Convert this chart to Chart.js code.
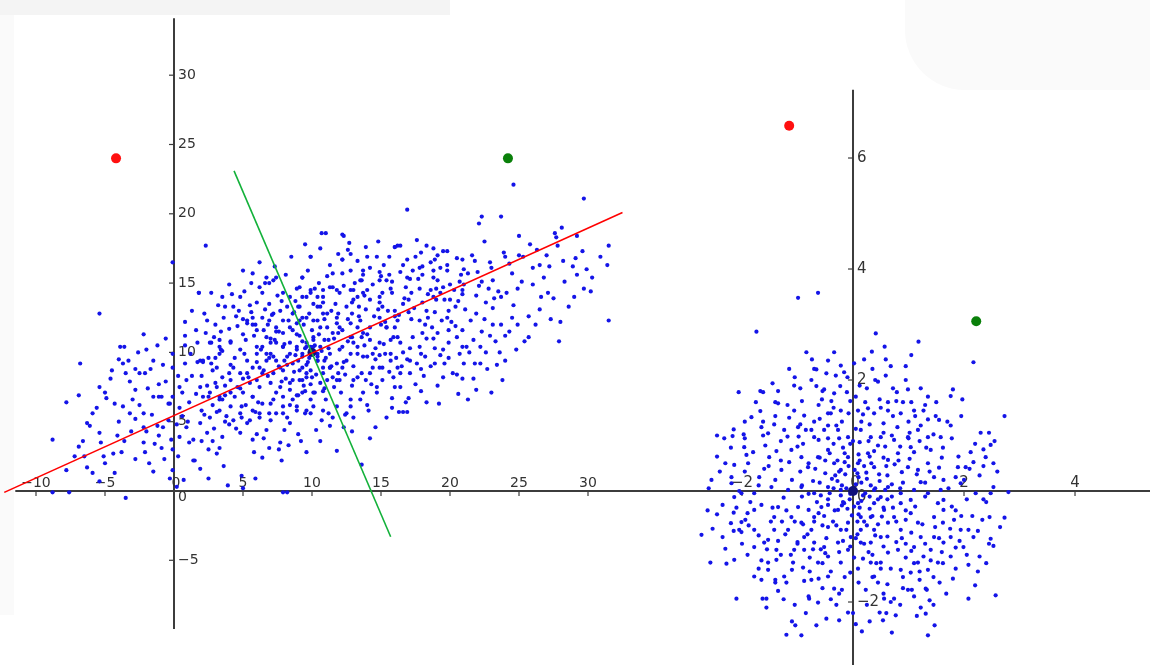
<!DOCTYPE html>
<html>
<head>
<meta charset="utf-8">
<script src="https://cdn.jsdelivr.net/npm/chart.js@4.4.1/dist/chart.umd.min.js"></script>
<style>
html, body { margin: 0; padding: 0; background: #fff; }
#wrap { position: relative; width: 1150px; height: 665px; overflow: hidden; background: #fff; }
.band { position: absolute; left: 0; top: 0; width: 450px; height: 15px; background: #f4f4f4; }
.edge { position: absolute; left: 0; top: 15px; width: 14px; height: 600px; background: #fafafa; }
.corner { position: absolute; left: 905px; top: 0; width: 245px; height: 90px; background: #fafafa; border-bottom-left-radius: 60px; }
canvas { position: absolute; left: 0; top: 0; }
</style>
</head>
<body>
<div id="wrap">
  <div class="band"></div>
  <div class="edge"></div>
  <div class="corner"></div>
  <canvas id="chart" width="1150" height="665"></canvas>
</div>
<script>
// left panel: raw data cloud with principal axes
const leftCloud = [
  [-5.4,12.8],[-8.8,3.7],[-6.8,9.2],[-7.8,6.4],[-6.9,6.9],[-6.9,3.2],[-7.8,1.5],[-7.6,-0.1],[-6.3,4.9],[-6.1,4.7],
  [-5.9,5.6],[-5.4,7.5],[-5.0,7.1],[-5.4,4.2],[-5.3,3.5],[-6.3,1.7],[-5.9,1.3],[-5.4,0.7],[-5.1,2.5],[-4.3,1.3],
  [-3.5,-0.5],[-4.4,2.7],[-3.8,2.8],[-3.6,3.6],[-4.9,6.7],[-4.6,8.1],[-4.5,8.7],[-3.9,10.4],[-3.6,10.4],[-3.3,9.4],
  [-3.7,9.2],[-3.5,8.5],[-2.8,8.8],[-2.5,8.5],[-2.1,8.5],[-1.7,8.8],[-2.2,11.3],[-1.5,9.4],[-1.2,10.5],[-4.3,6.3],
  [-3.7,6.1],[-3.2,5.6],[-2.8,5.2],[-2.5,6.2],[-2.2,5.6],[-2.2,4.6],[-2.0,4.3],[-2.2,3.5],[-2.1,2.8],[-1.8,2.0],
  [-1.5,1.4],[-1.5,6.8],[-1.1,6.8],[-1.1,7.7],[-0.9,6.8],[-1.2,4.7],[-1.1,4.0],[-0.8,4.6],[-0.9,3.1],[-0.4,5.1],
  [-0.4,6.3],[-0.3,6.3],[-0.1,6.8],[-0.1,8.9],[-0.1,9.9],[-0.2,3.7],[-0.1,3.0],[-0.1,1.5],[-0.3,0.9],[-8.8,-0.1],
  [0.8,12.2],[0.8,11.2],[0.8,10.5],[0.8,9.2],[0.4,7.5],[0.6,7.1],[0.4,6.0],[0.6,5.4],[0.9,4.6],[0.4,3.9],
  [1.1,3.5],[1.4,3.7],[0.3,2.5],[1.5,2.2],[0.7,0.8],[1.8,14.3],[2.7,14.3],[3.5,14.0],[4.2,14.2],[4.8,14.0],
  [5.1,14.4],[5.7,15.7],[1.7,10.7],[1.9,9.4],[2.1,9.3],[2.5,9.6],[2.7,9.2],[2.3,11.4],[2.7,10.7],[3.0,12.0],
  [3.3,10.9],[3.4,10.2],[3.5,10.1],[4.1,10.8],[3.7,13.3],[4.3,13.3],[4.7,13.0],[5.3,12.1],[5.7,12.0],[6.4,12.5],
  [1.9,7.5],[2.1,6.8],[2.4,7.6],[2.5,6.8],[3.0,7.8],[3.3,6.8],[3.5,6.6],[3.7,6.9],[4.1,7.1],[4.4,6.8],
  [4.8,7.4],[3.1,5.7],[3.3,5.8],[2.6,5.3],[2.0,5.8],[2.4,4.2],[2.0,3.6],[2.8,3.6],[2.5,3.0],[3.1,2.7],
  [3.5,3.9],[4.0,4.8],[4.3,5.1],[4.8,4.2],[5.3,4.9],[5.7,5.8],[6.2,5.3],[6.5,3.8],[5.9,0.9],[4.9,1.1],
  [3.9,0.4],[1.4,2.2],[5.7,6.8],[5.4,8.2],[6.0,8.0],[6.5,8.7],[6.7,9.9],[6.0,10.4],[6.7,11.1],[7.4,11.5],
  [7.3,10.9],[7.2,9.7],[7.7,8.9],[7.0,6.3],[7.4,5.6],[7.7,3.5],[7.6,3.0],[7.8,2.2],[8.2,-0.1],[6.7,4.4],
  [8.4,4.9],[8.2,5.3],[8.9,6.1],[9.5,5.6],[8.4,7.3],[8.6,8.0],[9.1,8.7],[9.6,8.2],[10.1,7.1],[6.9,15.0],
  [7.4,15.4],[7.9,14.3],[8.4,14.0],[8.2,13.3],[9.1,14.7],[9.3,15.4],[9.6,14.0],[10.1,13.5],[9.1,12.3],[8.6,11.6],
  [7.9,10.4],[8.4,9.9],[8.9,10.4],[9.3,9.7],[9.9,10.4],
  [24.6,22.1],[29.7,21.1],[16.9,20.3],[22.3,19.8],[22.1,19.3],[23.7,19.8],[10.7,18.6],[11.0,18.6],[12.3,18.4],[10.6,17.5],
  [12.7,17.9],[9.9,16.9],[28.1,19.0],[27.6,18.6],[27.7,18.3],[27.8,17.7],[29.2,18.4],[31.5,17.7],[31.4,16.3],[31.5,12.3],
  [29.7,14.6],[30.2,14.4],[29.6,17.3],[29.1,16.8],[29.2,15.6],[28.3,15.1],[28.6,13.3],[27.9,10.8],[27.3,12.4],[27.5,13.9],
  [26.6,14.0],[26.5,13.1],[27.2,16.2],[26.5,16.3],[26.3,17.4],[25.8,17.8],[25.3,16.9],[24.5,15.7],[24.3,16.4],[25.7,12.6],
  [25.7,11.1],[25.4,10.8],[24.9,12.0],[24.6,13.4],[24.5,12.5],[24.0,11.2],[23.8,8.0],[23.0,7.1],[23.6,10.0],[23.7,12.0],
  [23.7,14.0],[23.5,14.4],[23.1,15.2],[23.1,13.2],[23.1,12.0],[22.5,18.0],[21.6,17.0],[20.5,16.8],[20.9,16.7],[21.3,15.7],
  [22.3,15.1],[22.6,13.6],[22.5,12.4],[22.3,11.5],[21.7,10.9],[22.2,10.4],[22.2,9.2],[21.8,9.2],[22.7,8.8],[21.7,8.1],
  [20.9,8.1],[20.5,8.4],[20.2,8.5],[19.5,8.2],[19.6,9.2],[19.3,9.8],[19.5,10.2],[20.5,11.1],[21.2,10.4],[21.4,10.0],
  [20.7,9.9],[20.4,11.9],[19.8,12.5],[19.9,13.0],[20.4,13.3],[20.9,14.2],[20.9,14.5],[20.3,14.5],[20.0,14.9],[20.7,15.1],
  [19.5,14.7],[19.3,14.3],[18.8,14.0],[19.0,13.8],[18.3,13.0],[18.4,12.5],[18.7,11.8],[19.1,11.4],[18.8,11.0],[18.3,11.0],
  [18.0,11.4],[17.8,12.3],[17.2,12.4],[17.3,11.1],[17.8,10.4],[18.2,9.7],[17.6,9.2],[17.1,9.4],[16.6,10.0],[16.4,10.7],
  [16.2,11.1],[16.0,11.8],[16.3,12.7],[16.6,13.5],[17.2,14.3],[17.8,14.6],[18.6,14.5],[19.1,15.2],[18.8,15.9],[19.3,16.1],
  [18.9,16.7],[19.1,17.0],[19.5,17.3],[19.8,17.3],[18.8,17.5],[18.3,17.7],[17.9,17.2],[17.5,16.9],[18.0,16.2],[17.7,15.3],
  [17.1,15.3],[16.9,15.4],[16.6,16.3],[16.0,17.6],[16.4,17.7],[15.6,16.9],[14.9,15.8],[15.4,15.2],[15.1,14.3],[15.8,14.3],
  [14.9,13.6],[15.5,13.0],[14.9,12.5],[15.4,11.8],[15.7,10.9],[14.9,10.7],[15.3,9.9],[15.7,9.4],[15.1,8.9],[16.2,8.9],
  [16.4,8.5],[17.1,8.5],[16.4,7.5],[16.0,7.5],[17.9,7.2],[18.3,6.4],[15.8,6.0],[16.3,5.7],[16.9,5.7],[14.4,8.9],
  [14.3,7.7],[14.7,7.1],[14.0,6.2],[14.1,5.8],[12.8,6.1],[12.5,5.6],[11.5,5.3],[10.7,5.1],[9.6,5.8],[10.1,6.1],
  [9.5,7.2],[10.2,7.1],[10.8,7.2],[12.0,8.0],[13.0,8.0],[13.6,8.5],[14.0,9.7],[13.3,9.9],[12.5,9.4],[11.8,9.2],
  [11.3,8.9],[12.2,10.4],[12.9,11.1],[13.6,11.1],[14.2,11.8],[13.5,12.3],[12.8,12.1],[12.0,11.8],[11.5,11.4],[11.2,10.9],
  [11.8,12.5],[12.5,13.3],[13.3,14.0],[14.0,14.5],[13.6,15.2],[13.0,13.8],[12.8,14.5],[12.0,14.3],[11.5,14.7],[12.2,15.7],
  [12.8,15.9],[13.7,15.9],[14.2,16.1],[14.7,16.9],[14.0,16.9],[12.2,16.7],[11.5,15.7],[10.8,14.5],[10.4,14.0],[9.9,14.5],
  [10.6,13.3],[11.1,12.8],[10.1,12.3],[9.6,12.5],[10.6,11.8],[10.1,11.1],[9.6,10.4],[10.6,10.4],[11.3,9.9],[10.4,9.4],
  [10.8,8.9],[9.9,8.7],[9.3,8.0],[11.5,8.2],[9.3,8.9],
  [2.3,17.7],[-0.1,16.5],[1.8,14.3],[5.6,15.0],[6.2,14.7],[6.6,15.0],[6.7,15.4],[7.2,15.2],[6.4,14.3],[6.0,13.6],
  [5.5,13.4],[5.3,12.3],[5.7,12.5],[5.9,12.0],[6.5,11.6],[6.9,12.3],[7.2,12.8],[7.7,13.0],[7.9,12.3],[7.4,11.8],
  [7.9,11.4],[8.4,11.8],[8.9,12.1],[9.3,12.5],[8.6,12.8],[9.1,13.3],[9.3,14.0],[9.9,14.3],[9.3,15.4],[9.9,16.9],
  [12.2,18.5],[12.2,16.7],[12.8,17.1],[16.0,17.6],[16.2,17.7],[15.6,15.6],[14.9,15.2],[13.5,15.2],[13.0,14.5],[13.7,14.3],
  [14.2,13.8],[14.9,14.0],[15.1,13.3],[11.8,14.5],[11.3,14.7],[10.8,14.0],[10.4,13.3],[10.8,12.8],[10.4,12.3],[11.1,11.8],
  [11.8,12.1],[12.2,11.6],[12.8,11.1],[13.3,11.8],[13.7,11.4],[14.2,10.9],[13.3,10.4],[12.8,9.9],[13.7,9.7],[14.4,9.9],
  [14.9,8.9],[14.2,8.5],[13.3,8.2],[12.2,8.9],[11.8,8.0],[11.1,8.0],[11.3,8.9],[10.8,8.5],[10.4,9.4],[9.9,10.2],
  [9.6,10.7],[10.1,10.4],[10.4,9.9],[9.3,9.9],[8.9,10.2],[8.4,10.7],[7.9,10.4],[7.4,10.7],[7.0,10.7],[6.4,10.4],
  [6.0,9.9],[6.7,9.4],[7.4,9.4],[8.2,9.7],[8.6,9.2],[7.9,8.7],[7.2,8.5],[6.4,8.5],[5.7,8.9],[5.3,8.5],
  [5.5,7.8],[6.2,7.5],[7.0,7.8],[7.7,7.5],[8.4,7.8],[9.1,8.0],[9.6,8.5],[9.3,7.1],[8.6,6.6],[7.9,6.8],
  [7.2,6.6],[6.4,6.3],[5.7,6.8],[5.0,7.1],[4.6,7.5],[4.1,8.0],[4.8,8.5],[4.3,8.9],[5.3,9.4],[4.8,10.2],
  [4.1,10.7],[3.3,10.4],[3.3,9.9],[2.6,10.7],[2.1,9.4],[1.7,9.3],[2.8,8.7],[3.5,8.2],[3.1,7.5],[2.6,7.1],
  [3.3,6.6],[4.1,6.1],[4.8,5.6],[5.5,5.1],[6.2,5.6],[7.0,5.1],[7.9,5.6],[8.9,5.8],[9.9,5.6],[10.8,5.8],
  [11.8,6.1],[12.8,6.6],[13.7,7.1],[14.7,7.5],[15.1,8.0],[15.7,9.9],[15.9,11.1],[15.4,11.8],[16.2,12.3],
  [13.6,1.9],[7.9,-0.1],[5.0,0.2],[2.5,0.9],[5.8,2.8],[5.7,3.7],[3.3,3.1],[8.3,3.3],[12.9,4.3],[12.4,5.5],
  [16.6,5.7],[17.0,6.7],[10.6,3.6],[9.0,4.1],[11.3,4.7],
  [9.5,10.3],[10.4,9.7],[10.2,10.5],[9.8,9.6],[10.7,10.1],[9.3,10.8],[10.9,9.4],[9.6,9.1],[10.1,10.9],[11.2,10.3],
  [8.8,9.8],[10.5,11.3],[8.2,9.1],[9.1,11.2],[11.4,9.0],[12.6,10.8],[7.6,11.5],[10.3,8.4],[11.9,12.8],[8.7,12.9],
  [13.4,12.6],[6.8,8.3],[9.9,7.7],[12.1,7.1],[14.6,10.3],[7.1,12.7],[10.8,13.6],[13.9,13.1],[16.7,13.9],[15.3,12.2],
  [17.4,13.2],[18.9,12.9],[16.1,9.6],[19.9,11.6],[21.1,13.1],[20.1,12.2],[5.2,10.9],[4.4,9.6],[3.1,8.9],[6.1,6.4],
  [8.4,6.2],[11.0,6.6],[12.3,9.3],[9.4,12.0],[10.0,11.6],[8.0,10.6],[11.6,11.0],[12.9,13.6],[14.4,14.9],[15.7,14.6],
  [18.0,15.6],[13.1,15.0],[11.1,15.5],[8.9,14.6],[6.9,13.5],[5.0,12.4],[2.2,12.8],[1.3,13.0],[4.0,11.7],[6.3,10.2],
  [7.8,7.9],[9.0,6.9],[13.0,5.3],[15.8,6.7],[18.6,9.0],[20.9,10.4],[22.9,11.2],[24.1,14.3],[25.2,15.1],[26.8,15.4],
  [28.9,16.2],[30.9,16.9],
  [3.6,12.5],[4.5,12.6],[5.8,11.2],[6.6,13.1],[7.5,14.1],[8.1,15.6],[8.8,13.7],[9.7,15.9],[10.5,15.0],[11.3,16.3],
  [12.6,17.4],[13.9,17.6],[15.2,16.3],[16.9,16.7],[17.6,18.1],[18.6,16.5],[19.8,15.9],[21.0,16.0],[21.9,14.1],[22.9,16.5],
  [23.9,17.2],[25.0,18.4],[26.0,14.9],[27.0,17.0],[28.2,16.6],[29.9,16.0],[26.2,12.0],[24.8,10.2],[23.4,9.1],[21.9,7.3],
  [20.6,7.0],[19.1,7.6],[18.1,8.3],[17.5,7.7],[16.8,6.4],[15.4,5.3],[14.6,4.6],[13.5,6.6],[12.3,4.6],[11.2,5.6],
  [10.3,4.4],[9.2,3.6],[8.0,4.4],[6.9,3.1],[6.0,4.1],[5.2,6.2],[4.5,4.5],[3.8,5.4],[2.9,4.5],[1.9,4.9],
  [1.1,6.4],[1.3,8.3],[0.9,8.0],[1.6,11.6],[2.4,12.3],[3.2,13.4],[4.0,14.9],[5.0,15.9],[6.2,16.5],[7.3,16.2],
  [8.5,16.9],[9.5,17.8],[11.9,17.1],[13.3,16.6],[14.8,18.0],[16.4,15.8],[17.3,15.9],[18.4,14.2],[19.6,13.8],[20.6,13.7],
  [21.5,12.3],[22.1,14.8],[23.2,13.9],[24.3,11.5],[21.0,9.2],[19.9,9.6],[18.9,10.3],[17.9,9.9],[17.1,10.3],[16.5,9.0],
  [15.6,8.6],[14.6,9.5],[13.8,10.5],[13.0,9.0],[12.4,8.4],[11.6,7.5],[10.6,7.8],[9.4,7.6],[8.7,8.6],[7.6,9.0],
  [6.9,9.6],[6.2,8.9],[5.1,9.9],[4.1,9.1],[3.7,7.6],[2.8,6.2],[4.9,6.1],[7.4,7.1],[8.1,8.1],[9.7,9.3],
  [10.9,10.9],[11.9,11.4],[12.6,12.4],[13.4,13.3],[14.5,12.6],[15.2,10.6],[16.0,13.0],[17.0,13.8],[18.2,12.0],[19.4,12.3],
  [8.3,12.3],[7.0,11.0],[6.0,11.6],[5.0,11.3],[11.4,13.0],[12.3,14.8],[10.2,14.6],[9.0,13.3],[13.7,15.6],[15.0,15.5],
  [-2.8,7.3],[-3.1,4.3],[-4.0,5.0],[-5.6,6.0],[-6.6,3.6],[-7.2,2.5],[-0.7,2.3],[-1.6,5.5],[-0.6,7.9],[-2.6,10.0],
  [2.0,8.3],[3.0,9.6],[4.0,8.5],[5.0,8.1],[6.0,9.3],[7.0,9.9],[8.0,9.4],[9.0,9.4],[10.0,8.2],[11.0,9.6],
  [12.0,10.2],[13.0,10.7],[14.0,11.3],[15.0,12.0],[16.0,12.6],[17.0,12.9],[18.0,13.6],[19.0,14.6],[20.0,13.8],[21.0,14.9],
  [22.0,15.8],[23.0,16.1],[24.0,16.9],[25.0,17.0],[26.0,16.1],[3.4,11.5],[4.6,11.9],[5.6,12.9],[6.8,12.0],[7.8,13.7],
  [8.9,11.3],[9.8,12.8],[10.9,12.4],[11.7,13.5],[12.9,12.8],[13.8,14.1],[14.8,13.1],[15.8,15.1],[16.8,14.7],[17.8,16.1],
  [18.8,15.4],[19.8,16.3],[20.8,15.6],[21.8,16.6],[22.8,14.6],[3.7,5.0],[4.9,5.3],[5.9,5.7],[6.9,5.6],[7.9,6.1],
  [8.9,6.9],[9.9,6.6],[10.9,7.4],[11.9,8.5],[12.9,7.6],[13.9,8.0],[14.9,9.8],[15.9,8.2],[16.9,9.5],[17.9,8.8],
  [18.9,9.2],[19.9,10.7],[20.9,11.6],[21.9,12.8],[22.6,10.0],[1.0,5.0],[2.2,5.5],[1.6,7.0],[0.2,4.8],[1.2,9.9],
  [0.3,8.3],[2.9,11.1],[-0.6,11.0],[-1.9,7.4],[-3.0,6.6],[-4.1,4.0],[-5.0,2.0],[-6.5,2.5],[-2.8,2.3],[-1.4,3.4],
  [-0.8,9.1],[-2.0,10.2],[-3.2,7.9],[-4.0,9.5],[0.2,0.3],[1.9,1.6],[3.6,1.8],[6.4,2.4],[9.6,2.8],[11.8,2.9],
  [14.2,3.8],[19.2,6.3],[21.3,6.6],[27.1,14.3],[28.0,12.2],[29.0,14.0],[30.3,15.4],[24.0,9.4],[23.3,10.8],[24.9,14.6]
];
const leftRedLine = [[-12.3, -0.1], [32.5, 20.1]];
const leftGreenLine = [[4.35, 23.1], [15.7, -3.3]];
const leftCenter = [[10, 10]];
const leftRedPoint = [[-4.2, 24.0]];
const leftGreenPoint = [[24.2, 24.0]];

// right panel: the same data after whitening
const rightCloud = [
  [-1.74,2.87],[0.41,2.84],[1.18,2.69],[2.17,2.32],[-0.84,2.50],[-0.34,2.50],[-0.74,2.37],[0.20,2.37],[0.34,2.51],[0.57,2.60],
  [0.59,2.37],[-0.22,2.26],[-0.66,2.19],[-0.48,2.12],[-0.31,2.08],[-0.16,2.14],[0.59,2.08],[0.45,1.97],[-1.45,1.94],[-1.06,1.90],
  [-2.06,1.78],[-1.67,1.80],[-1.62,1.78],[-0.66,1.89],[-0.52,1.83],[-0.23,1.89],[-0.34,1.76],[-0.11,1.78],[0.72,1.85],[0.79,1.78],
  [0.99,1.83],[1.80,1.83],[1.76,1.71],[1.97,1.65],[2.73,1.35],[-0.56,1.65],[-0.39,1.62],[-0.05,1.62],[0.48,1.65],[0.63,1.60],
  [-1.35,1.58],[-1.67,1.44],[-1.83,1.33],[-1.06,1.45],[-0.88,1.36],[-0.45,1.40],[-0.22,1.45],[0.09,1.45],[0.27,1.49],[0.38,1.40],
  [0.63,1.45],[0.86,1.40],[1.10,1.45],[1.27,1.45],[1.49,1.35],[1.35,1.29],[1.76,1.18],[-2.32,0.95],[-2.17,0.99],[-2.15,1.11],
  [-1.97,1.02],[-1.65,1.15],[-1.53,1.04],[-1.42,1.20],[-1.24,1.10],[-0.99,1.15],[-0.75,1.10],[-0.70,0.97],[-0.52,1.10],[-0.27,1.10],
  [-0.09,0.97],[0.14,1.10],[0.32,0.97],[0.50,0.97],[0.74,0.92],[0.99,0.97],[1.17,1.10],[1.35,0.97],[1.58,0.97],[1.04,0.79],
  [1.40,0.74],[-1.96,0.79],[-1.92,0.65],[-2.14,0.47],[-2.55,0.20],[-2.19,0.25],[-1.89,0.50],[-1.69,0.25],[-1.51,0.61],[-1.29,0.38],
  [-1.11,0.74],[-0.93,0.61],[-0.81,0.43],[-0.63,0.61],[-0.45,0.74],[-0.34,0.50],[-0.22,0.38],[-0.09,0.61],[0.09,0.50],[0.27,0.68],
  [0.38,0.43],[0.63,0.56],[0.81,0.68],[0.99,0.43],[1.17,0.38],[1.35,0.50],[1.46,0.25],[1.63,0.20],[1.89,0.43],[2.03,0.43],
  [2.17,0.52],[2.12,0.70],[2.35,0.75],[2.39,0.61],[2.48,0.83],[2.53,0.50],[2.35,0.45],[2.53,0.07],[2.48,-0.04],[2.80,-0.02],
  [2.21,-0.04],[1.94,0.14],[-2.19,0.14],[-2.01,-0.04],[-1.78,-0.04],[-1.47,0.07],[-1.17,0.02],[-0.93,0.07],[-0.70,-0.04],[-0.45,0.07],
  [-0.22,0.02],[0.38,0.02],[0.63,0.07],[0.86,-0.04],[1.10,0.02],[1.35,-0.04],[1.58,0.02],
  [-2.73,-0.79],[-2.53,-0.68],[-2.35,-0.25],[-2.35,-0.83],[-2.57,-1.29],[-2.30,-1.04],[-2.28,-1.31],[-2.14,-1.24],[-2.10,-1.94],[-2.15,-0.39],
  [-2.14,-0.11],[-2.01,-0.56],[-2.15,-0.72],[-2.01,-0.74],[-1.94,-0.52],[-1.78,-0.34],[-1.78,-0.70],[-1.78,-1.01],[-1.78,-1.54],[-1.65,-1.60],
  [-1.63,-1.94],[-1.56,-1.94],[-1.56,-2.10],[-1.53,-1.42],[-1.53,-1.29],[-1.60,-0.93],[-1.53,-0.88],[-1.42,-0.70],[-1.42,-0.47],[-1.35,-0.29],
  [-1.38,-1.06],[-1.38,-1.24],[-1.40,-1.65],[-1.24,-1.54],[-1.20,-1.65],[-1.20,-2.59],[-1.04,-2.42],[-0.93,-2.60],[-1.08,-1.29],[-1.06,-1.06],
  [-1.17,-0.70],[-1.11,-0.47],[-0.99,-0.29],[-0.93,-0.57],[-0.88,-0.83],[-0.88,-1.06],[-0.90,-1.38],[-0.75,-1.60],[-0.79,-1.94],[-0.66,-2.42],
  [-0.63,-2.01],[-0.63,-1.29],[-0.70,-0.93],[-0.75,-0.70],[-0.70,-0.47],[-0.57,-0.29],[-0.45,-0.65],[-0.52,-1.01],[-0.45,-1.18],[-0.45,-1.54],
  [-0.34,-1.76],[-0.25,-2.33],[-0.20,-1.78],[-0.09,-2.19],[-0.05,-1.47],[-0.22,-1.29],[-0.27,-0.93],[-0.22,-0.70],[-0.27,-0.34],[-0.16,-0.22],
  [-0.09,-0.57],[-0.04,-0.83],[-0.09,-1.06],[0.09,-0.22],[0.14,-0.47],[0.14,-0.70],[0.14,-0.93],[0.18,-1.22],[0.09,-1.40],[0.23,-1.78],
  [0.16,-2.53],[0.32,-1.29],[0.32,-0.93],[0.38,-0.70],[0.32,-0.47],[0.38,-0.22],[0.50,-0.11],[0.56,-0.34],[0.63,-0.57],[0.50,-0.83],
  [0.63,-1.11],[0.50,-1.29],[0.38,-1.54],[0.45,-1.65],[0.48,-2.19],[0.54,-2.33],[0.56,-1.94],[0.74,-1.94],[0.77,-2.24],[0.68,-1.40],
  [0.86,-1.42],[0.81,-1.06],[0.86,-0.70],[0.74,-0.47],[0.86,-0.22],[1.04,-0.16],[1.04,-0.40],[1.17,-0.57],[1.22,-0.83],[1.10,-1.01],
  [1.27,-1.18],[1.17,-1.29],[1.04,-1.47],[0.99,-1.78],[1.06,-1.78],[1.10,-1.90],[1.31,-1.76],[1.33,-1.78],[1.38,-1.97],[1.22,-2.10],
  [1.31,-2.21],[1.35,-2.60],[1.47,-2.42],[1.35,-1.42],[1.40,-1.06],[1.46,-0.83],[1.46,-0.47],[1.53,-0.22],[1.63,-0.16],[1.63,-0.34],
  [1.62,-0.57],[1.63,-0.93],[1.53,-1.29],[1.56,-1.65],[1.80,-1.58],[1.76,-1.18],[1.76,-0.83],[1.85,-1.02],[1.94,-0.70],[1.82,-0.52],
  [1.99,-1.01],[2.08,-1.33],[2.08,-1.94],[2.08,-0.70],[2.17,-0.83],[2.28,-1.18],[2.33,-0.52],[2.46,-0.47],[2.48,-0.86],[2.53,-0.99],
  [2.57,-1.88],[2.73,-0.48],[-0.99,3.48],[-0.63,3.57],
  [0.05,0.12],[-0.12,0.05],[0.18,-0.08],[-0.06,-0.15],[0.25,0.22],[-0.28,0.18],[0.12,-0.30],[-0.20,-0.26],[0.40,0.05],[-0.42,-0.04],
  [0.03,0.38],[-0.02,-0.44],[0.55,-0.30],[-0.50,0.32],[0.33,0.50],[-0.36,-0.55],[0.62,0.28],[-0.65,-0.20],[0.10,0.66],[-0.12,-0.70],
  [0.78,-0.55],[-0.80,0.50],[0.45,0.82],[-0.48,-0.85],[0.90,0.15],[-0.92,-0.10],[0.20,-0.95],[-0.25,0.95],[1.05,-0.75],[-1.00,0.80],
  [0.70,1.00],[-0.72,-1.05],[1.15,0.30],[-1.20,-0.35],[0.35,-1.15],[-0.30,1.18],[0.08,-0.55],[0.58,0.02],[-0.60,0.60],[0.62,-0.82],
  [-0.15,0.52],[0.28,0.90],[-0.90,-0.60],[1.20,0.90],[-1.10,0.20],[0.95,-1.20],[-0.40,1.40],[0.50,-1.40],[1.30,-0.10],[-1.35,-0.90],
  [0.15,1.25],[0.82,0.55],[-0.55,-1.30],[-0.85,1.10],[1.00,1.25],[-0.05,0.85],[0.45,-0.60],[-0.33,-0.35],[0.24,0.33],[-0.18,-0.90],
  [-1.60,0.40],[-1.85,-0.20],[-1.30,0.90],[-0.60,1.30],[0.05,1.70],[0.90,1.60],[1.60,0.60],[1.85,-0.35],[1.20,-1.60],[0.25,-2.05],
  [-0.55,-1.75],[-1.25,-1.95],[-2.00,-0.95],[-2.40,0.35],[-1.15,2.20],[0.95,2.25],[2.30,1.05],[2.25,-1.45],[-0.85,-2.20],[0.70,-2.55],
  [-0.95,0.35],[-0.72,0.18],[-0.58,-0.08],[-0.38,0.22],[-0.14,0.30],[0.02,-0.28],[0.22,-0.04],[0.47,0.30],[0.70,0.12],[0.88,0.34],
  [1.02,0.58],[1.22,0.16],[1.12,-0.28],[0.95,-0.52],[0.72,-0.30],[0.52,-0.46],[0.30,-0.32],[0.08,-0.78],[-0.30,-0.62],[-0.52,-0.45],
  [-0.80,-0.34],[-1.05,-0.55],[-1.25,-0.12],[-1.40,0.20],[-1.15,0.52],[-0.90,0.85],[-0.62,0.92],[-0.42,0.68],[-0.18,0.78],[0.12,0.88],
  [0.38,0.72],[0.58,0.80],[0.85,0.80],[1.10,0.70],[1.32,0.78],[1.55,0.42],[1.72,0.05],[1.78,-0.28],[1.48,-0.65],[1.30,-0.95],
  [1.05,-1.08],[0.78,-0.92],[0.55,-1.00],[0.28,-1.10],[0.02,-1.20],[-0.25,-1.10],[-0.50,-1.12],[-0.78,-1.20],[-1.00,-0.92],[-1.22,-0.78],
  [-1.48,-0.55],[-1.65,-0.25],[-1.70,0.10],[-1.52,0.45],[-1.38,0.72],[-1.18,0.98],[-0.95,1.20],[-0.70,1.25],[-0.45,1.18],[-0.20,1.25],
  [0.05,1.12],[0.30,1.20],[0.55,1.22],[0.80,1.15],[1.02,1.05],[1.22,1.18],[1.45,1.02],[1.62,0.78],[1.90,0.62],[2.00,0.20],
  [2.05,-0.15],[1.95,-0.45],[1.75,-0.68],[1.60,-1.10],[1.40,-1.25],[1.20,-1.45],[0.90,-1.55],[0.62,-1.68],[0.35,-1.55],[0.10,-1.65],
  [-0.15,-1.55],[-0.40,-1.45],[-0.62,-1.58],[-0.88,-1.62],[-1.10,-1.42],[-1.30,-1.15],[-1.55,-1.05],[-1.70,-0.80],[-1.90,-0.40],[-2.05,0.00],
  [-1.95,0.35],[-1.80,0.70],[-1.62,1.00],[-1.40,1.35],[-1.18,1.55],[-0.92,1.62],[-0.62,1.55],[-0.35,1.50],[-0.08,1.40],[0.22,1.60],
  [0.50,1.50],[0.78,1.62],[1.05,1.60],[1.30,1.55],[1.55,1.28],[1.78,0.95],[2.20,0.85],[2.28,0.28],[2.40,-0.20],[2.25,-0.72],
  [2.05,-1.15],[1.85,-1.40],[1.68,-1.85],[1.45,-2.05],[1.15,-2.25],[0.85,-2.05],[0.60,-2.20],[0.30,-2.35],[0.00,-2.20],[-0.30,-2.05],
  [-0.48,-2.30],[-0.80,-1.90],[-1.05,-2.05],[-1.35,-1.80],[-1.70,-1.40],[-1.90,-1.15],[-2.20,-0.58],[-2.45,-0.42],[-2.60,0.05],[-2.45,0.62],
  [-2.20,0.78],[-1.95,1.25],[-1.75,1.60],[-1.35,1.80],[-1.05,2.05],[-0.75,2.00],[-0.45,2.35],[-0.10,2.05],[0.12,1.90],[0.35,2.20],
  [0.68,2.25],[0.95,2.00],[1.22,1.85],[1.50,1.60],[1.95,1.35],[2.45,1.05],[2.60,0.35],[2.65,-0.65],[2.40,-1.30],[2.20,-1.70],
  [0.10,0.25],[-0.22,-0.08],[0.32,0.10],[-0.08,0.45],[0.15,-0.18],[-0.35,0.05],[0.02,0.02],[0.45,-0.15],[-0.25,0.35],[0.20,0.45],
  [-0.45,-0.25],[0.35,-0.45],[-0.10,-0.32],[0.60,0.45],[-0.60,0.15],[0.70,-0.10],[-0.70,-0.55],[0.12,0.55],[-0.50,0.55],[0.25,-0.62],
  [-0.35,0.85],[0.62,-0.15],[-0.82,-0.78],[0.18,1.38],[1.38,0.35],[-1.45,-0.30],[0.42,-1.30],[-0.05,-1.00],[0.88,-0.85],[-0.68,0.40],
  [1.12,1.35],[-1.12,-1.15],[0.30,0.62],[-0.20,0.10],[0.75,0.48],[-0.55,-0.62],[1.55,-0.85],[-1.58,0.82],[0.95,-0.35],[-0.92,0.10],
  [0.10,-0.42],[-0.15,0.68],[1.25,-0.60],[-1.30,0.55],[0.55,1.05],[-0.58,-1.05],[2.10,0.40],[-2.10,-0.30],[0.40,2.00],[-0.40,-1.95],
  [1.70,1.25],[-1.65,-1.25],[1.45,-1.55],[-1.40,1.60],[0.00,0.90],[0.85,0.05],[-0.80,-0.05],[0.05,-0.85],[0.48,0.18],[-0.45,-0.15],
  [0.20,-0.55],[-0.28,0.55],[1.00,0.95],[-1.00,-0.95],[0.95,-0.95],[-0.98,0.98],[1.85,0.25],[-1.88,-0.62],[0.25,1.85],[-0.25,-1.85],
  [2.35,-0.15],[-2.30,0.50],[0.68,-2.00],[-0.70,2.20],[1.62,-1.30],[-1.62,1.25],[2.55,0.90],[-2.62,-0.35],[1.05,2.45],[-1.10,-2.35],
  [0.15,0.15],[-0.18,-0.20],[0.30,-0.10],[-0.32,0.28],[0.08,0.32],[-0.05,-0.05],[0.55,0.60],[-0.62,-0.40],[0.40,-0.80],[-0.45,0.95],
  [1.30,0.15],[-1.28,-0.55],[0.72,1.35],[-0.78,-1.45],[1.10,-1.30],[-1.15,1.32],[1.92,-0.90],[-1.95,0.95],[0.55,-1.85],[-0.55,1.80],
  [2.15,-0.45],[-2.05,-0.70],[1.35,1.70],[-1.40,-1.60],[0.90,-1.75],[-0.95,1.85],[0.02,2.30],[0.05,-2.40],[2.45,-0.95],[-2.45,1.00]
];
const rightCenter = [[0, 0]];
const rightRedPoint = [[-1.15, 6.58]];
const rightGreenPoint = [[2.22, 3.06]];

// axis ticks
const leftXTicks = [-10, -5, 0, 5, 10, 15, 20, 25, 30];
const leftYTicks = [-5, 5, 10, 15, 20, 25, 30];
const rightXTicks = [-2, 0, 2, 4];
const rightYTicks = [-2, 2, 4, 6];

function toXY(list) {
    return list.map(p => ({ x: p[0], y: p[1] }));
}

function fmt(v) {
    return v < 0 ? '\u2212' + Math.abs(v) : String(v);
}

function drawPanel(ctx, xs, ys, p) {
    const ox = xs.getPixelForValue(0);
    const oy = ys.getPixelForValue(0);
    ctx.save();
    ctx.strokeStyle = '#3c3c3c';
    ctx.lineWidth = 2;
    ctx.beginPath();
    ctx.moveTo(xs.getPixelForValue(p.xSpan[0]), oy);
    ctx.lineTo(xs.getPixelForValue(p.xSpan[1]), oy);
    ctx.moveTo(ox, ys.getPixelForValue(p.ySpan[0]));
    ctx.lineTo(ox, ys.getPixelForValue(p.ySpan[1]));
    ctx.stroke();

    ctx.lineWidth = 1.2;
    ctx.fillStyle = '#333';
    ctx.font = p.font;
    p.xTicks.forEach(v => {
        const px = xs.getPixelForValue(v);
        ctx.beginPath();
        ctx.moveTo(px, oy);
        ctx.lineTo(px, oy + 5);
        ctx.stroke();
        ctx.textAlign = 'center';
        ctx.textBaseline = 'alphabetic';
        ctx.fillText(fmt(v), px + (v === 0 ? 2 : 0), oy - 4);
    });
    p.yTicks.forEach(v => {
        const py = ys.getPixelForValue(v);
        ctx.beginPath();
        ctx.moveTo(ox - 5, py);
        ctx.lineTo(ox, py);
        ctx.stroke();
        ctx.textAlign = 'left';
        ctx.textBaseline = 'middle';
        ctx.fillText(fmt(v), ox + 4, py);
    });
    // origin label of the y axis sits just under the x axis
    ctx.textAlign = 'left';
    ctx.textBaseline = 'middle';
    ctx.fillText('0', ox + 4, oy + 6);
    ctx.restore();
}

const axesPlugin = {
    id: 'originAxes',
    beforeDatasetsDraw(chart) {
        const s = chart.scales;
        drawPanel(chart.ctx, s.xL, s.yL, {
            xSpan: [-11.5, 34.2], ySpan: [34.1, -9.95],
            xTicks: leftXTicks, yTicks: leftYTicks,
            font: '14px "DejaVu Sans", sans-serif'
        });
        drawPanel(chart.ctx, s.xR, s.yR, {
            xSpan: [-3.78, 5.4], ySpan: [7.23, -3.2],
            xTicks: rightXTicks, yTicks: rightYTicks,
            font: '15px "DejaVu Sans", sans-serif'
        });
    }
};

const blue = '#1414e8';
const ctx = document.getElementById('chart').getContext('2d');
new Chart(ctx, {
    type: 'scatter',
    data: {
        datasets: [
            { data: toXY(leftCloud), xAxisID: 'xL', yAxisID: 'yL', pointRadius: 2.1, backgroundColor: blue, borderWidth: 0, order: 3 },
            { data: toXY(leftCenter), xAxisID: 'xL', yAxisID: 'yL', pointRadius: 4.5, backgroundColor: '#10107a', borderWidth: 0, order: 2 },
            { data: toXY(leftRedLine), xAxisID: 'xL', yAxisID: 'yL', showLine: true, pointRadius: 0, borderColor: '#ff0000', borderWidth: 1.6, order: 1 },
            { data: toXY(leftGreenLine), xAxisID: 'xL', yAxisID: 'yL', showLine: true, pointRadius: 0, borderColor: '#13b13a', borderWidth: 1.6, order: 1 },
            { data: toXY(leftRedPoint), xAxisID: 'xL', yAxisID: 'yL', pointRadius: 5, backgroundColor: '#ff1010', borderWidth: 0, order: 0 },
            { data: toXY(leftGreenPoint), xAxisID: 'xL', yAxisID: 'yL', pointRadius: 5, backgroundColor: '#0a800a', borderWidth: 0, order: 0 },
            { data: toXY(rightCloud), xAxisID: 'xR', yAxisID: 'yR', pointRadius: 2.1, backgroundColor: blue, borderWidth: 0, order: 3 },
            { data: toXY(rightCenter), xAxisID: 'xR', yAxisID: 'yR', pointRadius: 5, backgroundColor: '#10107a', borderWidth: 0, order: 2 },
            { data: toXY(rightRedPoint), xAxisID: 'xR', yAxisID: 'yR', pointRadius: 5, backgroundColor: '#ff1010', borderWidth: 0, order: 0 },
            { data: toXY(rightGreenPoint), xAxisID: 'xR', yAxisID: 'yR', pointRadius: 5, backgroundColor: '#0a800a', borderWidth: 0, order: 0 }
        ]
    },
    options: {
        responsive: false,
        animation: false,
        events: [],
        layout: { padding: 0, autoPadding: false },
        plugins: { legend: { display: false }, tooltip: { enabled: false } },
        scales: {
            xL: { type: 'linear', axis: 'x', position: 'bottom', display: false, min: -12.609, max: 70.725 },
            yL: { type: 'linear', axis: 'y', position: 'left', display: false, min: -12.555, max: 35.425 },
            xR: { type: 'linear', axis: 'x', position: 'bottom', display: false, min: -15.369, max: 5.351 },
            yR: { type: 'linear', axis: 'y', position: 'left', display: false, min: -3.135, max: 8.847 }
        }
    },
    plugins: [axesPlugin]
});
</script>
</body>
</html>
